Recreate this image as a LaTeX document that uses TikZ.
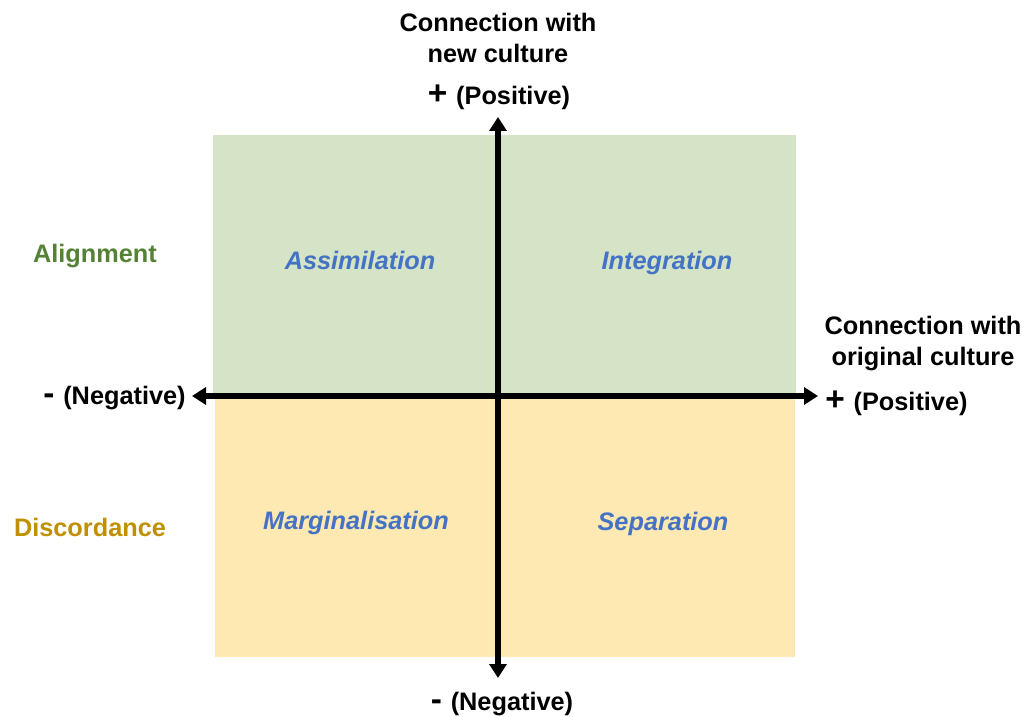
\documentclass[tikz,border=0pt]{standalone}
\usepackage{fontspec}
\setmainfont{Liberation Sans}
\usetikzlibrary{arrows.meta,positioning}
\definecolor{alignfill}{RGB}{213,227,198}
\definecolor{discfill}{RGB}{253,233,177}
\definecolor{aligntext}{RGB}{84,130,53}
\definecolor{disctext}{RGB}{191,144,0}
\definecolor{quadtext}{RGB}{68,114,196}
\tikzset{
  axis/.style={line width=3pt,{Triangle[length=2.8mm,width=3.4mm]}-{Triangle[length=2.8mm,width=3.4mm]}},
  axislabel/.style={font=\fontsize{14.4}{17.6}\selectfont\bfseries,align=center,inner sep=0pt},
  quadlabel/.style={font=\fontsize{14.4}{17.6}\selectfont\bfseries\itshape,text=quadtext,anchor=base},
  sidelabel/.style={font=\fontsize{14.4}{17.6}\selectfont\bfseries,anchor=base},
}
\newcommand{\plussign}{{\fontsize{19}{17.6}\selectfont+}\hspace{5pt}}
\newcommand{\minussign}{{\fontsize{19}{17.6}\selectfont-}\hspace{5pt}}
\begin{document}
\begin{tikzpicture}[x=0.2mm,y=-0.2mm]
\useasboundingbox (0,0) rectangle (1027,717);
% quadrant fills
\fill[alignfill] (213,135) rectangle (796,396);
\fill[discfill] (215,396) rectangle (795,657);
% axes ends
\coordinate (top) at (498,117);
\coordinate (bottom) at (498,678);
\coordinate (left) at (192,396);
\coordinate (right) at (818,396);
\draw[axis] (bottom) -- (top);
\draw[axis] (left) -- (right);
% axis labels
\node[axislabel] (newcult) at (498,38) {Connection with\\new culture};
\node[axislabel] (ypos) at (499,97) {\plussign(Positive)};
\node[axislabel] (yneg) at (502,704) {\minussign(Negative)};
\node[axislabel,anchor=east] (xneg) at (186,398) {\minussign(Negative)};
\node[axislabel,anchor=west] (xpos) at (825,403) {\plussign(Positive)};
\node[axislabel] (origcult) at (923,343.5) {Connection with\\original culture};
% quadrants
\node[quadlabel] (assim) at (360,270) {Assimilation};
\node[quadlabel] (integ) at (667,270) {Integration};
\node[quadlabel] (margin) at (356,530) {Marginalisation};
\node[quadlabel] (separ) at (663,531) {Separation};
% row labels
\node[sidelabel,text=aligntext] (align) at (95,263) {Alignment};
\node[sidelabel,text=disctext] (disc) at (90,536) {Discordance};
\end{tikzpicture}
\end{document}
